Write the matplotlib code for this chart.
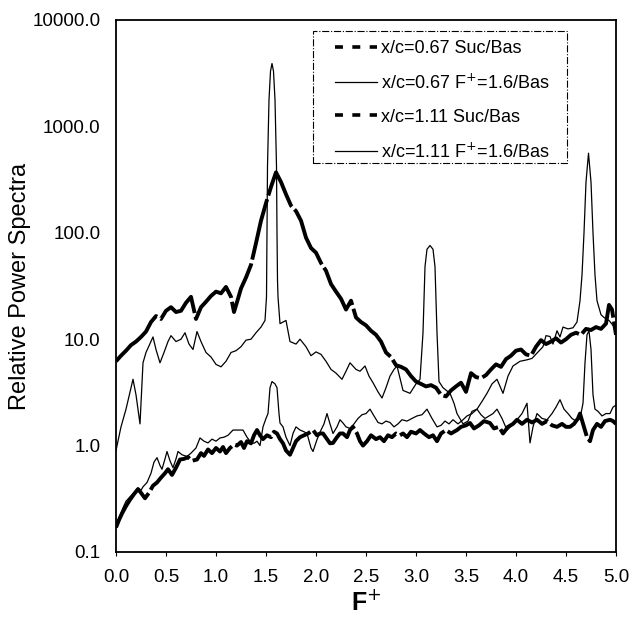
import matplotlib
matplotlib.use("Agg")
import matplotlib.pyplot as plt
from matplotlib.ticker import FixedLocator, FuncFormatter, NullLocator
from matplotlib.patches import Rectangle
from matplotlib.lines import Line2D

plt.rcParams['font.family'] = ['Liberation Sans', 'DejaVu Sans']

# x/c=0.67 Suc/Bas (thick, upper)
xa = [0.00, 0.05, 0.10, 0.15, 0.20, 0.25, 0.30, 0.35, 0.40, 0.45, 0.50, 0.55, 0.60, 0.65, 0.70,
      0.75, 0.80, 0.85, 0.90, 0.95, 1.00, 1.05, 1.10, 1.15, 1.18, 1.22, 1.25, 1.30, 1.35, 1.40,
      1.45, 1.50, 1.55, 1.60, 1.65, 1.70, 1.75, 1.80, 1.85, 1.90, 1.95, 2.00, 2.05, 2.10, 2.15,
      2.20, 2.25, 2.30, 2.35, 2.40, 2.45, 2.50, 2.55, 2.60, 2.65, 2.70, 2.75, 2.80, 2.85, 2.90,
      2.95, 3.00, 3.05, 3.10, 3.15, 3.20, 3.25, 3.30, 3.35, 3.40, 3.45, 3.50, 3.55, 3.60, 3.65,
      3.70, 3.75, 3.80, 3.85, 3.90, 3.95, 4.00, 4.05, 4.10, 4.15, 4.20, 4.25, 4.30, 4.35, 4.40,
      4.45, 4.50, 4.55, 4.60, 4.65, 4.70, 4.75, 4.80, 4.85, 4.90, 4.93, 4.96, 5.00]
ya = [6.2, 7.0, 7.8, 8.8, 9.5, 10.5, 11.8, 14.5, 16.5, 15.5, 18.5, 20, 18, 18.5, 22,
      25, 15.5, 20, 22.5, 25.5, 28, 27, 31, 25, 18, 24, 30, 38, 50, 80,
      130, 190, 270, 370, 300, 230, 180, 160, 130, 90, 72, 65, 52, 44, 33,
      28, 24, 19, 23, 16, 14.5, 13.5, 12, 11, 9.5, 7.5, 6.8, 5.7, 5.5, 5.2,
      4.5, 4.0, 3.8, 3.6, 3.7, 3.5, 3.0, 2.9, 3.3, 3.6, 3.9, 3.2, 4.8, 4.4, 4.3,
      4.6, 5.2, 5.8, 5.5, 6.5, 7.0, 7.8, 8.0, 7.2, 7.0, 8.5, 9.8, 9.0, 9.5, 10.2,
      9.3, 10.0, 11, 11.5, 11, 12.5, 12.2, 13, 12.5, 14, 21, 19, 11]

# x/c=0.67 F+=1.6/Bas (thin, upper)
xb = [0.00, 0.05, 0.10, 0.15, 0.17, 0.20, 0.24, 0.27, 0.30, 0.35, 0.37, 0.40, 0.44, 0.48, 0.52,
      0.55, 0.60, 0.65, 0.69, 0.73, 0.77, 0.81, 0.85, 0.90, 0.95, 1.00, 1.05, 1.10, 1.15, 1.20,
      1.25, 1.30, 1.35, 1.40, 1.45, 1.49, 1.505, 1.51, 1.515, 1.53, 1.545, 1.56, 1.575, 1.59,
      1.605, 1.61, 1.615, 1.62, 1.64, 1.70, 1.74, 1.80, 1.84, 1.90, 1.95, 2.00, 2.05, 2.10, 2.15,
      2.20, 2.26, 2.30, 2.34, 2.40, 2.44, 2.49, 2.53, 2.57, 2.62, 2.66, 2.70, 2.74, 2.78, 2.81,
      2.87, 2.94, 3.00, 3.04, 3.07, 3.09, 3.11, 3.14, 3.17, 3.19, 3.21, 3.23, 3.27, 3.34, 3.38,
      3.41, 3.47, 3.52, 3.56, 3.61, 3.66, 3.71, 3.76, 3.81, 3.87, 3.92, 3.97, 4.04, 4.11, 4.16,
      4.21, 4.27, 4.30, 4.34, 4.37, 4.41, 4.44, 4.47, 4.52, 4.57, 4.61, 4.64, 4.66, 4.68, 4.70,
      4.725, 4.75, 4.77, 4.79, 4.81, 4.85, 4.88, 4.93, 4.97, 5.00]
yb = [0.9, 1.5, 2.2, 3.5, 4.2, 3.0, 1.6, 6.0, 7.5, 9.5, 10.5, 8.0, 6.0, 7.5, 9.5,
      10.8, 9.5, 10, 11.5, 9, 8, 11.8, 9.5, 7.5, 6.8, 5.8, 5.5, 6.2, 7.5, 7.8,
      8.5, 9.8, 10, 11.5, 13, 15, 25, 100, 420, 1780, 3300, 3900, 3300, 1780,
      420, 100, 36, 25, 14, 15, 9.5, 9, 10, 8.5, 7, 7.6, 7.2, 6.2, 5.2,
      4.8, 4.2, 5, 6, 5.2, 5.0, 5.6, 4.5, 3.9, 3.2, 2.8, 3.5, 4.5, 5.2, 5.6,
      3.3, 3.1, 3.8, 4.2, 11.5, 48, 70, 76, 70, 48, 11.5, 4, 3.5, 3.1, 2.5,
      2.0, 1.6, 1.7, 2.1, 2.2, 2.6, 3.1, 3.8, 4.2, 3.1, 4.5, 5.6, 6.2, 6.4, 6.6,
      7.4, 8.5, 10.8, 10.6, 9.0, 12, 10.5, 13, 12.5, 12.8, 14.5, 23, 40, 100, 300,
      560, 300, 100, 40, 23, 17, 16, 15, 13.5, 12]

# x/c=1.11 Suc/Bas (thick, lower)
xc = [0.00, 0.03, 0.06, 0.10, 0.14, 0.18, 0.22, 0.25, 0.29, 0.33, 0.37, 0.41, 0.45, 0.49, 0.52,
      0.56, 0.60, 0.64, 0.68, 0.72, 0.76, 0.81, 0.85, 0.88, 0.92, 0.96, 1.00, 1.04, 1.07, 1.10,
      1.14, 1.18, 1.21, 1.25, 1.28, 1.31, 1.35, 1.38, 1.41, 1.44, 1.47, 1.51, 1.55, 1.58, 1.61,
      1.64, 1.67, 1.70, 1.74, 1.77, 1.80, 1.84, 1.88, 1.92, 1.97, 2.01, 2.04, 2.07, 2.11, 2.14,
      2.17, 2.21, 2.24, 2.27, 2.31, 2.34, 2.37, 2.41, 2.44, 2.47, 2.51, 2.55, 2.60, 2.64, 2.68,
      2.72, 2.76, 2.80, 2.84, 2.87, 2.91, 2.95, 3.00, 3.04, 3.08, 3.13, 3.17, 3.21, 3.25, 3.30,
      3.35, 3.41, 3.45, 3.50, 3.54, 3.58, 3.63, 3.68, 3.74, 3.78, 3.83, 3.87, 3.92, 3.97, 4.01,
      4.06, 4.11, 4.16, 4.21, 4.26, 4.31, 4.36, 4.41, 4.46, 4.50, 4.54, 4.58, 4.62, 4.64, 4.68,
      4.71, 4.74, 4.77, 4.81, 4.85, 4.89, 4.94, 4.97, 5.00]
yc = [0.17, 0.2, 0.23, 0.27, 0.31, 0.35, 0.39, 0.36, 0.32, 0.36, 0.42, 0.45, 0.5, 0.55, 0.6,
      0.53, 0.62, 0.74, 0.75, 0.78, 0.72, 0.74, 0.85, 0.8, 0.92, 0.85, 0.95, 0.88, 0.97, 0.85,
      0.95, 1.02, 1.0, 1.08, 0.95, 1.1, 1.05, 1.25, 1.4, 1.25, 1.15, 1.25, 1.2, 1.35, 1.3,
      1.15, 1.05, 0.9, 0.82, 0.95, 1.1, 1.2, 1.25, 1.3, 1.4, 1.25, 1.3, 1.3, 1.15, 1.05,
      1.06, 1.2, 1.3, 1.3, 1.2, 1.4, 1.5, 1.3, 1.1, 1.0, 1.1, 1.25, 1.15, 1.2, 1.1,
      1.25, 1.2, 1.3, 1.25, 1.3, 1.2, 1.35, 1.3, 1.4, 1.3, 1.2, 1.25, 1.1, 1.3, 1.4,
      1.3, 1.4, 1.5, 1.55, 1.63, 1.45, 1.55, 1.7, 1.63, 1.45, 1.5, 1.3, 1.5, 1.6, 1.75,
      1.6, 1.75, 1.65, 1.75, 1.6, 1.7, 1.55, 1.5, 1.6, 1.5, 1.5, 1.6, 1.8, 2.0, 1.5,
      1.2, 1.1, 1.4, 1.6, 1.5, 1.7, 1.75, 1.7, 1.6]

# x/c=1.11 F+=1.6/Bas (thin, lower)
xd = [0.00, 0.03, 0.07, 0.10, 0.14, 0.18, 0.22, 0.25, 0.27, 0.31, 0.35, 0.38, 0.41, 0.44, 0.46,
      0.49, 0.51, 0.54, 0.57, 0.60, 0.62, 0.66, 0.71, 0.75, 0.80, 0.84, 0.88, 0.92, 0.96, 1.00,
      1.04, 1.08, 1.12, 1.17, 1.22, 1.27, 1.31, 1.34, 1.38, 1.41, 1.44, 1.47, 1.50, 1.52, 1.54,
      1.56, 1.59, 1.61, 1.63, 1.64, 1.67, 1.70, 1.74, 1.77, 1.80, 1.84, 1.88, 1.91, 1.95, 1.97,
      2.01, 2.05, 2.08, 2.11, 2.14, 2.17, 2.21, 2.24, 2.27, 2.30, 2.34, 2.38, 2.42, 2.46, 2.50,
      2.54, 2.58, 2.62, 2.66, 2.70, 2.74, 2.78, 2.82, 2.86, 2.91, 2.96, 3.01, 3.06, 3.11, 3.16,
      3.21, 3.25, 3.29, 3.33, 3.37, 3.42, 3.47, 3.51, 3.56, 3.61, 3.65, 3.69, 3.73, 3.77, 3.81,
      3.86, 3.91, 3.96, 4.01, 4.06, 4.11, 4.14, 4.17, 4.21, 4.26, 4.31, 4.36, 4.40, 4.44, 4.48,
      4.52, 4.56, 4.60, 4.64, 4.67, 4.69, 4.71, 4.73, 4.75, 4.77, 4.79, 4.82, 4.86, 4.90, 4.94,
      4.97, 5.00]
yd = [0.18, 0.21, 0.26, 0.3, 0.33, 0.36, 0.4, 0.38, 0.41, 0.45, 0.55, 0.7, 0.77, 0.65, 0.6,
      0.75, 0.88, 0.72, 0.62, 0.75, 0.88, 0.82, 0.79, 0.85, 0.95, 1.18, 1.1, 1.06, 1.15, 1.1,
      1.18, 1.2, 1.25, 1.4, 1.4, 1.4, 1.2, 1.1, 1.05, 1.1, 1.0, 1.5, 1.8, 2.0, 3.5,
      4.0, 3.8, 3.5, 2.0, 1.63, 1.5, 1.2, 1.0, 1.3, 1.5, 1.4, 1.35, 1.3, 0.95, 0.88,
      1.14, 1.4, 1.6, 2.0, 1.6, 1.3, 1.5, 1.75, 1.63, 1.5, 1.45, 1.6, 1.8, 1.95, 2.0,
      2.2, 1.9, 1.65, 1.6, 1.7, 1.65, 1.5, 1.6, 1.75, 1.7, 1.8, 1.9, 1.95, 2.2, 1.8,
      1.5, 1.55, 1.7, 1.6, 1.75, 1.6, 1.75, 1.9, 2.0, 2.2, 1.95, 1.8, 1.9, 2.0, 2.2,
      1.8, 1.4, 1.55, 1.75, 2.0, 2.5, 1.06, 1.5, 2.0, 1.8, 1.75, 2.0, 2.3, 2.7, 2.2,
      2.0, 1.8, 1.7, 1.8, 2.5, 6, 11, 12, 8, 3, 2.2, 2.1, 1.9, 2.0, 2.0,
      2.3, 2.4]

labels = ["x/c=0.67 Suc/Bas", "x/c=0.67 F$^{+}$=1.6/Bas",
          "x/c=1.11 Suc/Bas", "x/c=1.11 F$^{+}$=1.6/Bas"]
yticks = [0.1, 1.0, 10.0, 100.0, 1000.0, 10000.0]
xticks = [0.0, 0.5, 1.0, 1.5, 2.0, 2.5, 3.0, 3.5, 4.0, 4.5, 5.0]

W, H = 636, 620
fig = plt.figure(figsize=(W / 100, H / 100), dpi=100)
ax = fig.add_axes([116 / W, 1 - 552 / H, (616 - 116) / W, (552 - 20) / H])

thick = dict(color='black', lw=2.8, dashes=(16, 1.0))
thin = dict(color='black', lw=0.9)
ax.plot(xa, ya, **thick)
ax.plot(xb, yb, **thin)
ax.plot(xc, yc, **thick)
ax.plot(xd, yd, **thin)

ax.set_yscale('log')
ax.set_ylim(0.1, 10000)
ax.set_xlim(0, 5)
ax.yaxis.set_major_locator(FixedLocator(yticks))
ax.yaxis.set_minor_locator(NullLocator())
ax.yaxis.set_major_formatter(FuncFormatter(lambda v, p: f"{v:.1f}"))
ax.xaxis.set_major_locator(FixedLocator(xticks))
ax.xaxis.set_major_formatter(FuncFormatter(lambda v, p: f"{v:.1f}"))
ax.tick_params(axis='y', length=0, pad=11, labelsize=13.5)
ax.tick_params(axis='x', length=3, direction='out', pad=9, labelsize=13.5)
for s in ax.spines.values():
    s.set_linewidth(1.3)

ax.set_ylabel("Relative Power Spectra", fontsize=17, labelpad=1)
ax.set_xlabel("F$^{+}$", fontsize=18, fontweight='bold', labelpad=3)

# legend: handles drawn with short dashes like the reference
handles = [Line2D([], [], color='black', lw=2.6, dashes=(2.2, 2.6)),
           Line2D([], [], color='black', lw=0.9),
           Line2D([], [], color='black', lw=2.6, dashes=(2.2, 2.6)),
           Line2D([], [], color='black', lw=0.9)]
leg = fig.legend(handles, labels, loc='upper left', bbox_to_anchor=(335 / W, 1 - 40 / H),
                 bbox_transform=fig.transFigure, fontsize=13, frameon=False,
                 handlelength=2.3, handletextpad=0.25, labelspacing=0.9,
                 borderpad=0, borderaxespad=0)
fig.patches.append(Rectangle((313 / W, 1 - 163 / H), (567 - 313) / W, (163 - 31) / H,
                             transform=fig.transFigure, fill=False, edgecolor='black',
                             lw=0.8, ls='-.', zorder=5))

fig.savefig("out.png", dpi=100)
